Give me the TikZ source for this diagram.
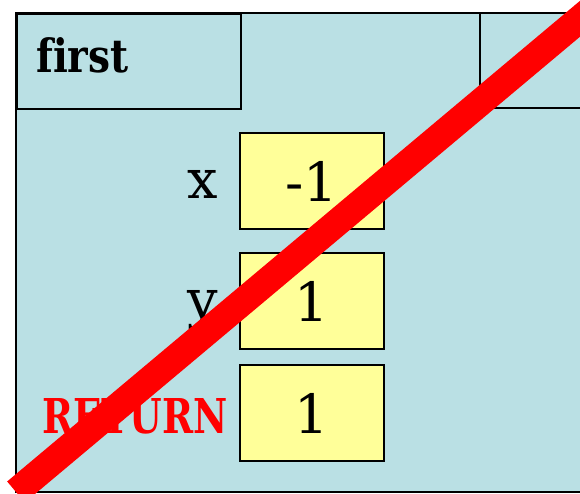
\documentclass[tikz,border=0pt]{standalone}
\usepackage{fontspec}
\setmainfont{DejaVu Serif}[Ligatures=NoCommon]
\definecolor{frameblue}{RGB}{186,224,228}
\definecolor{boxyellow}{RGB}{255,255,153}
\definecolor{strikered}{RGB}{255,0,0}
\begin{document}
\begin{tikzpicture}[x=1pt,y=-1pt,
  frameline/.style={draw=black,line width=1.6pt},
  valbox/.style={draw=black,line width=1.6pt,fill=boxyellow,minimum width=144pt,minimum height=96pt,inner sep=0pt,font=\fontsize{54}{60}\selectfont},
  varlabel/.style={anchor=base east,inner sep=0pt,font=\fontsize{54}{60}\selectfont},
  retlabel/.style={anchor=base east,inner sep=0pt,text=strikered,font=\fontsize{48}{54}\selectfont\bfseries},
  headtext/.style={anchor=base west,inner sep=0pt,font=\fontsize{46}{50}\selectfont\bfseries},
  strike/.style={draw=strikered,line width=27.5pt}]
\clip (0,0) rectangle (580,494);
\fill[white] (0,0) rectangle (580,494);
% frame background
\fill[frameblue] (16,13) rectangle (580,492);
% header cells
\node[frameline,rectangle,minimum width=224pt,minimum height=95pt,inner sep=0pt,anchor=north west] (firstcell) at (16,13) {};
\node[headtext] (firstlabel) at (36,73) {\scalebox{0.85}[1]{first}};
\coordinate (rc1) at (480,13);
\coordinate (rc2) at (480,108);
\coordinate (rc3) at (582,108);
\draw[frameline] (rc1) -- (rc2) -- (rc3);
% outer frame
\coordinate (f1) at (582,13);
\coordinate (f2) at (16,13);
\coordinate (f3) at (16,492);
\coordinate (f4) at (582,492);
\draw[frameline] (f1) -- (f2) -- (f3) -- (f4);
% value boxes
\node[valbox] (xbox) at (312,181) {-1};
\node[valbox] (ybox) at (312,301) {1};
\node[valbox] (rbox) at (312,413) {1};
% labels
\node[varlabel] (xlabel) at (218,199) {x};
\node[varlabel] (ylabel) at (218,318) {y};
\node[retlabel] (rlabel) at (228,433) {\scalebox{0.78}[1]{RETURN}};
% strike-through
\coordinate (s1) at (16,492);
\coordinate (s2) at (600,2);
\draw[strike] (s1) -- (s2);
\end{tikzpicture}
\end{document}
